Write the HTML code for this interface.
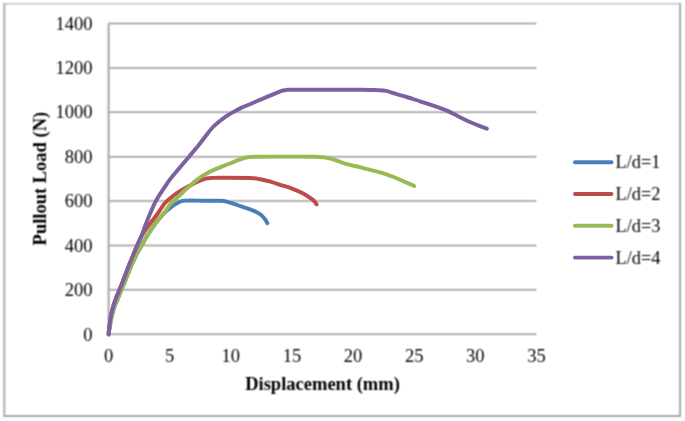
<!DOCTYPE html>
<html><head><meta charset="utf-8"><style>
html,body{margin:0;padding:0;background:#fff;}
body{width:685px;height:421px;overflow:hidden;}
svg{display:block;}
text{font-family:"Liberation Serif",serif;fill:#000;}
</style></head><body>
<svg width="685" height="421" viewBox="0 0 685 421">
<defs><filter id="bl" x="0" y="0" width="685" height="421" filterUnits="userSpaceOnUse" color-interpolation-filters="sRGB"><feConvolveMatrix order="3" kernelMatrix="1 2 1 2 4 2 1 2 1" edgeMode="duplicate"/></filter></defs>
<g filter="url(#bl)">
<rect x="0" y="0" width="685" height="421" fill="#fff"/>
<line x1="3.2" y1="3.7" x2="681" y2="3.7" stroke="#c4c4c4" stroke-width="1.6"/><line x1="4.3" y1="2.9" x2="4.3" y2="417" stroke="#b4b4b4" stroke-width="2.2"/><line x1="680.1" y1="2.9" x2="680.1" y2="417.1" stroke="#a9a9a9" stroke-width="2"/><line x1="3.2" y1="416.1" x2="681.1" y2="416.1" stroke="#a9a9a9" stroke-width="2"/>
<g stroke="#989898" stroke-width="1.5"><line x1="108.5" y1="334.30" x2="536.4" y2="334.30"/><line x1="108.5" y1="289.80" x2="536.4" y2="289.80"/><line x1="108.5" y1="245.60" x2="536.4" y2="245.60"/><line x1="108.5" y1="201.00" x2="536.4" y2="201.00"/><line x1="108.5" y1="156.70" x2="536.4" y2="156.70"/><line x1="108.5" y1="112.20" x2="536.4" y2="112.20"/><line x1="108.5" y1="67.90" x2="536.4" y2="67.90"/><line x1="108.5" y1="23.40" x2="536.4" y2="23.40"/><line x1="108.6" y1="23.4" x2="108.6" y2="334.3" stroke="#a4a4a4" stroke-width="2"/></g>
<g font-size="18.5"><text x="92.6" y="340.50" text-anchor="end">0</text><text x="92.6" y="296.00" text-anchor="end">200</text><text x="92.6" y="251.80" text-anchor="end">400</text><text x="92.6" y="207.20" text-anchor="end">600</text><text x="92.6" y="162.90" text-anchor="end">800</text><text x="92.6" y="118.40" text-anchor="end">1000</text><text x="92.6" y="74.10" text-anchor="end">1200</text><text x="92.6" y="29.60" text-anchor="end">1400</text><text x="108.50" y="362" text-anchor="middle">0</text><text x="169.63" y="362" text-anchor="middle">5</text><text x="230.76" y="362" text-anchor="middle">10</text><text x="291.89" y="362" text-anchor="middle">15</text><text x="353.01" y="362" text-anchor="middle">20</text><text x="414.14" y="362" text-anchor="middle">25</text><text x="475.27" y="362" text-anchor="middle">30</text><text x="536.40" y="362" text-anchor="middle">35</text></g>
<g font-size="18.3"><text x="615.5" y="168.2">L/d=1</text><text x="615.5" y="200.0">L/d=2</text><text x="615.5" y="231.8">L/d=3</text><text x="615.5" y="263.6">L/d=4</text></g>
<text x="322.5" y="389.8" font-size="18.5" font-weight="bold" text-anchor="middle">Displacement (mm)</text>
<text transform="translate(45.8,178.6) rotate(-90)" x="0" y="0" font-size="18.5" font-weight="bold" text-anchor="middle">Pullout Load (N)</text>
</g>
<g fill="none" stroke-width="3.95" stroke-linecap="round" stroke-linejoin="round"><path d="M108.60,334.40 C108.82,333.00 109.38,329.07 109.90,326.00 C110.42,322.93 111.02,319.00 111.70,316.00 C112.38,313.00 113.22,310.33 114.00,308.00 C114.78,305.67 115.52,304.17 116.40,302.00 C117.28,299.83 118.12,297.83 119.30,295.00 C120.48,292.17 122.13,288.33 123.50,285.00 C124.87,281.67 126.18,278.25 127.50,275.00 C128.82,271.75 129.98,268.75 131.40,265.50 C132.82,262.25 134.27,258.92 136.00,255.50 C137.73,252.08 139.87,248.42 141.80,245.00 C143.73,241.58 145.52,238.33 147.60,235.00 C149.68,231.67 151.93,228.22 154.30,225.00 C156.67,221.78 159.75,218.05 161.80,215.70 C163.85,213.35 165.00,212.38 166.60,210.90 C168.20,209.42 169.68,208.07 171.40,206.80 C173.12,205.53 175.07,204.28 176.90,203.30 C178.73,202.32 180.55,201.35 182.40,200.90 C184.25,200.45 185.90,200.65 188.00,200.60 C190.10,200.55 190.50,200.57 195.00,200.60 C199.50,200.63 210.20,200.73 215.00,200.80 C219.80,200.87 220.88,200.57 223.80,201.00 C226.72,201.43 229.58,202.50 232.50,203.40 C235.42,204.30 238.38,205.42 241.30,206.40 C244.22,207.38 247.67,208.47 250.00,209.30 C252.33,210.13 253.55,210.53 255.30,211.40 C257.05,212.27 258.90,213.22 260.50,214.50 C262.10,215.78 263.77,217.65 264.90,219.10 C266.03,220.55 266.90,222.52 267.30,223.20" stroke="#4A7EBB"/><path d="M108.60,334.40 C108.75,333.00 109.12,329.07 109.50,326.00 C109.88,322.93 110.35,319.00 110.90,316.00 C111.45,313.00 112.17,310.33 112.80,308.00 C113.43,305.67 113.95,304.17 114.70,302.00 C115.45,299.83 116.18,297.83 117.30,295.00 C118.42,292.17 120.07,288.33 121.40,285.00 C122.73,281.67 124.05,278.25 125.30,275.00 C126.55,271.75 127.62,268.75 128.90,265.50 C130.18,262.25 131.58,258.92 133.00,255.50 C134.42,252.08 135.97,248.25 137.40,245.00 C138.83,241.75 140.07,238.83 141.60,236.00 C143.13,233.17 144.80,230.58 146.60,228.00 C148.40,225.42 150.67,222.75 152.40,220.50 C154.13,218.25 155.50,216.58 157.00,214.50 C158.50,212.42 160.07,209.92 161.40,208.00 C162.73,206.08 163.42,204.70 165.00,203.00 C166.58,201.30 168.92,199.43 170.90,197.80 C172.88,196.17 174.92,194.60 176.90,193.20 C178.88,191.80 180.82,190.58 182.80,189.40 C184.78,188.22 186.82,187.17 188.80,186.10 C190.78,185.03 192.73,183.97 194.70,183.00 C196.67,182.03 198.62,181.07 200.60,180.30 C202.58,179.53 204.70,178.80 206.60,178.40 C208.50,178.00 209.77,178.00 212.00,177.90 C214.23,177.80 213.67,177.78 220.00,177.80 C226.33,177.82 243.30,177.77 250.00,178.00 C256.70,178.23 256.80,178.58 260.20,179.20 C263.60,179.82 266.93,180.72 270.40,181.70 C273.87,182.68 277.40,183.95 281.00,185.10 C284.60,186.25 288.38,187.23 292.00,188.60 C295.62,189.97 299.48,191.62 302.70,193.30 C305.92,194.98 309.33,197.33 311.30,198.70 C313.27,200.07 313.62,200.55 314.50,201.50 C315.38,202.45 316.25,203.92 316.60,204.40" stroke="#BE4B48"/><path d="M108.60,334.40 C108.82,333.00 109.38,329.07 109.90,326.00 C110.42,322.93 111.02,319.00 111.70,316.00 C112.38,313.00 113.22,310.33 114.00,308.00 C114.78,305.67 115.52,304.17 116.40,302.00 C117.28,299.83 118.12,297.83 119.30,295.00 C120.48,292.17 122.13,288.33 123.50,285.00 C124.87,281.67 126.18,278.25 127.50,275.00 C128.82,271.75 129.98,268.75 131.40,265.50 C132.82,262.25 134.27,258.92 136.00,255.50 C137.73,252.08 139.87,248.42 141.80,245.00 C143.73,241.58 145.52,238.33 147.60,235.00 C149.68,231.67 151.93,228.25 154.30,225.00 C156.67,221.75 159.88,217.90 161.80,215.50 C163.72,213.10 164.35,212.52 165.80,210.60 C167.25,208.68 168.65,206.08 170.50,204.00 C172.35,201.92 174.85,200.05 176.90,198.10 C178.95,196.15 180.82,194.18 182.80,192.30 C184.78,190.42 186.82,188.58 188.80,186.80 C190.78,185.02 192.73,183.20 194.70,181.60 C196.67,180.00 198.55,178.60 200.60,177.20 C202.65,175.80 204.60,174.50 207.00,173.20 C209.40,171.90 212.00,170.70 215.00,169.40 C218.00,168.10 221.87,166.67 225.00,165.40 C228.13,164.13 230.88,162.92 233.80,161.80 C236.72,160.68 240.17,159.47 242.50,158.70 C244.83,157.93 245.62,157.52 247.80,157.20 C249.98,156.88 249.40,156.90 255.60,156.80 C261.80,156.70 275.10,156.60 285.00,156.60 C294.90,156.60 308.53,156.67 315.00,156.80 C321.47,156.93 320.88,157.00 323.80,157.40 C326.72,157.80 329.58,158.38 332.50,159.20 C335.42,160.02 338.38,161.35 341.30,162.30 C344.22,163.25 347.08,164.13 350.00,164.90 C352.92,165.67 355.88,166.18 358.80,166.90 C361.72,167.62 364.25,168.38 367.50,169.20 C370.75,170.02 375.12,170.95 378.30,171.80 C381.48,172.65 383.82,173.35 386.60,174.30 C389.38,175.25 392.22,176.35 395.00,177.50 C397.78,178.65 400.53,179.98 403.30,181.20 C406.07,182.42 409.80,184.00 411.60,184.80 C413.40,185.60 413.68,185.80 414.10,186.00" stroke="#98B954"/><path d="M108.60,334.40 C108.75,333.00 109.12,329.07 109.50,326.00 C109.88,322.93 110.35,319.00 110.90,316.00 C111.45,313.00 112.17,310.33 112.80,308.00 C113.43,305.67 113.95,304.17 114.70,302.00 C115.45,299.83 116.18,297.83 117.30,295.00 C118.42,292.17 120.07,288.33 121.40,285.00 C122.73,281.67 124.05,278.25 125.30,275.00 C126.55,271.75 127.62,268.75 128.90,265.50 C130.18,262.25 131.58,258.92 133.00,255.50 C134.42,252.08 135.92,248.42 137.40,245.00 C138.88,241.58 140.55,238.33 141.90,235.00 C143.25,231.67 144.23,228.33 145.50,225.00 C146.77,221.67 147.73,219.07 149.50,215.00 C151.27,210.93 153.67,205.10 156.10,200.60 C158.53,196.10 161.82,191.50 164.10,188.00 C166.38,184.50 167.63,182.47 169.80,179.60 C171.97,176.73 173.90,174.62 177.10,170.80 C180.30,166.98 185.38,161.00 189.00,156.70 C192.62,152.40 196.05,148.42 198.80,145.00 C201.55,141.58 203.28,139.03 205.50,136.20 C207.72,133.37 209.80,130.45 212.10,128.00 C214.40,125.55 216.92,123.47 219.30,121.50 C221.68,119.53 224.08,117.77 226.40,116.20 C228.72,114.63 230.67,113.53 233.20,112.10 C235.73,110.67 238.80,108.92 241.60,107.60 C244.40,106.28 247.13,105.40 250.00,104.20 C252.87,103.00 255.88,101.67 258.80,100.40 C261.72,99.13 264.58,97.83 267.50,96.60 C270.42,95.37 273.82,94.00 276.30,93.00 C278.78,92.00 280.62,91.12 282.40,90.60 C284.18,90.08 284.90,90.05 287.00,89.90 C289.10,89.75 282.83,89.73 295.00,89.70 C307.17,89.67 346.25,89.63 360.00,89.70 C373.75,89.77 373.12,89.90 377.50,90.10 C381.88,90.30 383.38,90.32 386.30,90.90 C389.22,91.48 392.08,92.72 395.00,93.60 C397.92,94.48 400.88,95.33 403.80,96.20 C406.72,97.07 409.80,97.95 412.50,98.80 C415.20,99.65 416.92,100.28 420.00,101.30 C423.08,102.32 427.35,103.67 431.00,104.90 C434.65,106.13 438.98,107.62 441.90,108.70 C444.82,109.78 445.77,110.12 448.50,111.40 C451.23,112.68 454.83,114.67 458.30,116.40 C461.77,118.13 465.65,120.17 469.30,121.80 C472.95,123.43 477.28,125.05 480.20,126.20 C483.12,127.35 485.70,128.28 486.80,128.70" stroke="#7D60A0"/></g>
<g stroke-width="3.95" stroke-linecap="round"><line x1="575" y1="162.2" x2="611.5" y2="162.2" stroke="#4A7EBB"/><line x1="575" y1="194.0" x2="611.5" y2="194.0" stroke="#BE4B48"/><line x1="575" y1="225.8" x2="611.5" y2="225.8" stroke="#98B954"/><line x1="575" y1="257.6" x2="611.5" y2="257.6" stroke="#7D60A0"/></g>
</svg>
</body></html>
